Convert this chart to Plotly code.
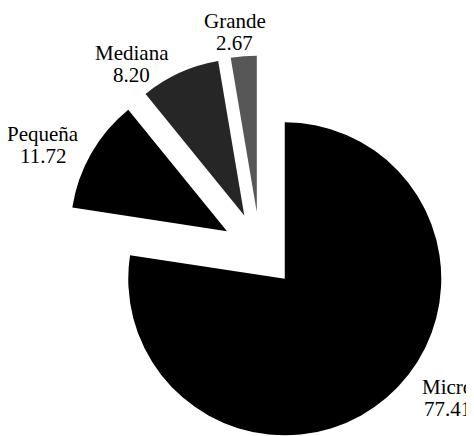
import math
import plotly.graph_objects as go

# ---- data ----
labels = ["Micro", "Pequeña", "Mediana", "Grande"]
values = [77.41, 11.72, 8.20, 2.67]
value_text = ["77.41", "11.72", "8.20", "2.67"]
colors = ["#000000", "#000000", "#262626", "#575757"]

# ---- layout constants (screen pixels of the 474x436 window) ----
OFF = 8                      # page body margin: figure starts at (8, 8)
W, H = 474 - OFF, 436 - OFF  # figure size so it ends at the window edge
R = 156.5                    # pie radius
CX, CY = 260.0, 250.0        # common centre before exploding (screen px)
PULL = 38.0                  # explode distance along each slice's mid angle
FONT = dict(family="Liberation Serif", size=21, color="#000000")
# label centre x, baseline of name line, baseline of value line (screen px)
label_pos = [(447.5, 394, 416), (42.5, 141, 163), (131.5, 60, 82), (234.5, 28, 50)]

fig = go.Figure()
total = sum(values)
cum = 0.0
for i, v in enumerate(values):
    mid = 2 * math.pi * (cum + v / 2) / total
    cum += v
    vx = CX + PULL * math.sin(mid) - OFF
    vy = CY - PULL * math.cos(mid) - OFF
    dom_x = [max(0.0, (vx - R) / W), min(1.0, (vx + R) / W)]
    dom_y = [max(0.0, 1 - (vy + R) / H), min(1.0, 1 - (vy - R) / H)]
    fig.add_trace(go.Pie(
        values=values, labels=labels, sort=False, direction="clockwise", rotation=0,
        marker=dict(colors=[c if j == i else "rgba(0,0,0,0)" for j, c in enumerate(colors)],
                    line=dict(width=0)),
        textinfo="none", hoverinfo="skip", showlegend=False,
        domain=dict(x=dom_x, y=dom_y),
    ))

annotations = []
for lab, vt, (x, b1, b2) in zip(labels, value_text, label_pos):
    for txt, base in ((lab, b1), (vt, b2)):
        annotations.append(dict(
            text=txt, x=(x - OFF) / W, y=1 - (base - OFF - 0.34 * FONT["size"]) / H,
            xref="paper", yref="paper", xanchor="center", yanchor="middle",
            showarrow=False, font=FONT,
        ))

fig.update_layout(
    width=W, height=H, margin=dict(l=0, r=0, t=0, b=0),
    paper_bgcolor="white", plot_bgcolor="white",
    annotations=annotations, showlegend=False,
)

fig.write_html("out.html")
